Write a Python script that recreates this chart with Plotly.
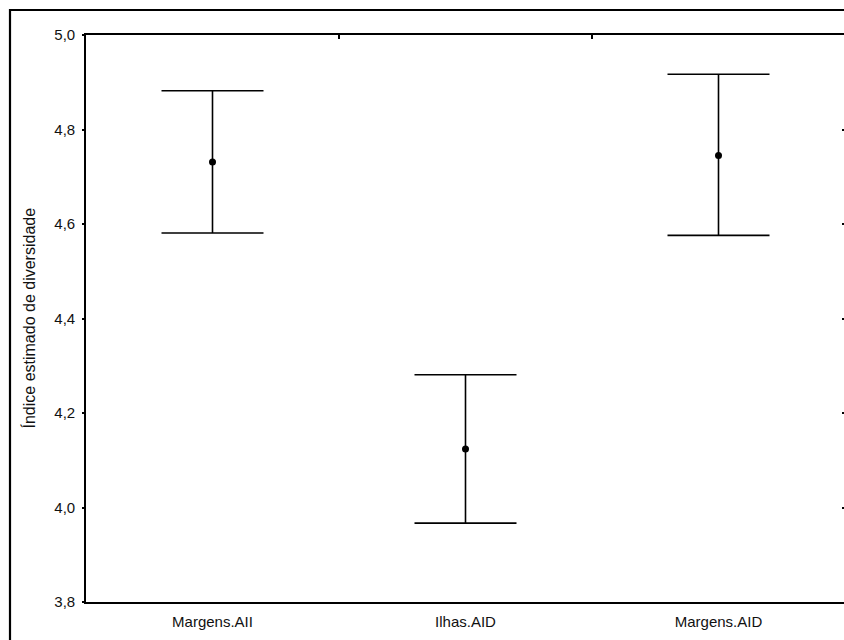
import plotly.graph_objects as go

# Estimated diversity index: mean with confidence limits per group
categories = ["Margens.AII", "Ilhas.AID", "Margens.AID"]
means = [4.731, 4.124, 4.745]
upper = [4.882, 4.281, 4.917]
lower = [4.581, 3.967, 4.576]

y_ticks = [3.8, 4.0, 4.2, 4.4, 4.6, 4.8, 5.0]
y_title = "Índice estimado de diversidade"

W, H = 844, 640
L, R, T, B = 86, 0, 35, 38
plot_w = W - L - R
plot_h = H - T - B

err_plus = [u - m for u, m in zip(upper, means)]
err_minus = [m - l for m, l in zip(means, lower)]
xpos = list(range(len(categories)))

family = "Liberation Sans, Arial, sans-serif"
font = dict(family=family, size=15, color="#111111")
title_font = dict(family=family, size=16, color="#111111")

fig = go.Figure()
fig.add_trace(go.Scatter(
    x=xpos, y=means, mode="markers",
    marker=dict(color="black", size=7),
    error_y=dict(type="data", symmetric=False, array=err_plus, arrayminus=err_minus,
                 width=51, thickness=1.6, color="black"),
    showlegend=False, hoverinfo="skip",
))

# invisible trace that carries the top and right axes
fig.add_trace(go.Scatter(x=[None], y=[None], xaxis="x2", yaxis="y2", showlegend=False))

x_range = [-0.5, -0.5 + plot_w / 253.0]

fig.update_layout(
    width=W, height=H,
    margin=dict(l=L, r=R, t=T, b=B, pad=0),
    paper_bgcolor="white", plot_bgcolor="white",
    separators=",.",
    font=font,
    xaxis=dict(
        range=x_range, tickvals=xpos, ticktext=categories, ticks="",
        showline=True, linecolor="black", linewidth=1.6, mirror=True,
        showgrid=False, zeroline=False, tickfont=font, ticklabelstandoff=5,
    ),
    xaxis2=dict(
        range=x_range, overlaying="x", side="top", tickvals=[0.5, 1.5],
        ticks="inside", ticklen=4, tickwidth=1.6, tickcolor="black",
        showticklabels=False, showline=False, showgrid=False, zeroline=False,
    ),
    yaxis=dict(
        range=[3.8, 5.0], tickvals=y_ticks, tickformat=".1f",
        ticks="outside", ticklen=2, tickwidth=1.6, tickcolor="black",
        showline=True, linecolor="black", linewidth=1.6,
        showgrid=False, zeroline=False, tickfont=font, ticklabelstandoff=4,
    ),
    yaxis2=dict(
        range=[3.8, 5.0], overlaying="y", side="right", tickvals=y_ticks,
        ticks="inside", ticklen=2, tickwidth=1.6, tickcolor="black",
        showticklabels=False, showline=False, showgrid=False, zeroline=False,
    ),
    shapes=[dict(
        type="rect", xref="paper", yref="paper",
        x0=(10 - L) / plot_w, x1=(W + 20 - L) / plot_w,
        y0=-(H + 20 - (H - B)) / plot_h, y1=(H - B - 10) / plot_h,
        line=dict(color="black", width=2.2), fillcolor="rgba(0,0,0,0)", layer="above",
    )],
    annotations=[dict(
        text=y_title, xref="paper", yref="paper",
        x=(28 - L) / plot_w, y=0.5, textangle=-90, showarrow=False,
        xanchor="center", yanchor="middle", font=title_font,
    )],
)

fig.write_html("out.html")
